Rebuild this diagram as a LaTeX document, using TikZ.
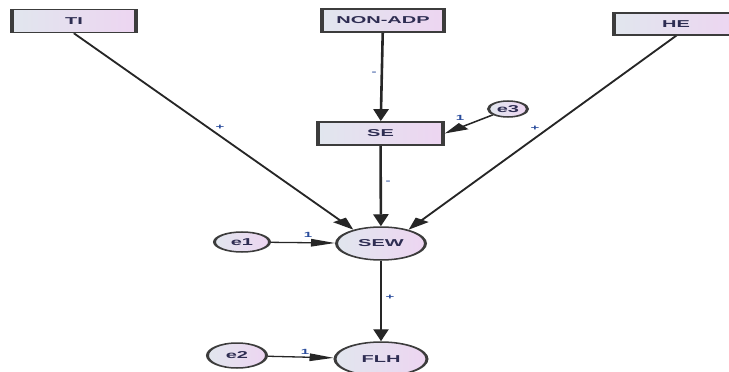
\documentclass[tikz,border=0pt]{standalone}
\usepackage{fontspec}
\setmainfont{Liberation Sans}
\usetikzlibrary{arrows.meta,shapes.geometric}
\definecolor{edgegray}{HTML}{3C3C3C}
\definecolor{linegray}{HTML}{262626}
\definecolor{fillleft}{HTML}{E1E6EE}
\definecolor{fillright}{HTML}{EDD5F1}
\definecolor{textnavy}{HTML}{2E2D52}
\definecolor{coefblue}{HTML}{2A4C9C}

\begin{document}
\begin{tikzpicture}[x=1pt,y=-1pt,
  observed/.style={rectangle, draw=edgegray, line width=1.7pt,
    minimum width=62pt, minimum height=23pt, inner sep=0pt,
    left color=fillleft, right color=fillright,
    font=\bfseries\fontsize{10}{12}\selectfont, text=textnavy},
  latent/.style={ellipse, draw=edgegray, line width=1.5pt, inner sep=0pt,
    left color=fillleft, right color=fillright,
    font=\bfseries\fontsize{10}{12}\selectfont, text=textnavy},
  conn/.style={draw=linegray, line width=1.3pt,
    -{Triangle[length=12pt,width=7.5pt]}},
  coef/.style={font=\bfseries\fontsize{7.5}{9}\selectfont, text=coefblue,
    inner sep=0pt}
]
\useasboundingbox (0,0) rectangle (729,372);
% the model is laid out at half width and stretched horizontally
\begin{scope}[transform canvas={xscale=2}]
  % observed variables
  \node[observed] (TI) at (37,21) {TI};
  \node[observed, minimum width=61pt] (NONADP) at (191.5,20.5) {NON-ADP};
  \node[observed, minimum height=22pt] (HE) at (338,24) {HE};
  \node[observed, minimum width=62.5pt] (SE) at (190.25,133.5) {SE};
  % latent variables and error terms
  \node[latent, minimum width=44.5pt, minimum height=33pt] (SEW) at (190.5,243.5) {SEW};
  \node[latent, minimum width=46pt, minimum height=34pt] (FLH) at (190.5,359) {FLH};
  \node[latent, minimum width=19.5pt, minimum height=16pt] (e3) at (254,109) {e3};
  \node[latent, minimum width=27.5pt, minimum height=20pt] (e1) at (121,242) {e1};
  \node[latent, minimum width=29.5pt, minimum height=25pt] (e2) at (118.5,355.5) {e2};
  % regression paths
  \draw[conn] (TI.south) -- (SEW.135);
  \draw[conn] (NONADP) -- (SE);
  \draw[conn] (e3) -- (SE.east);
  \draw[conn] (HE.south) -- (SEW.45);
  \draw[conn] (SE) -- (SEW);
  \draw[conn] (e1) -- (SEW);
  \draw[conn] (SEW) -- (FLH);
  \draw[conn] (e2) -- (FLH);
  % path signs and fixed weights
  \node[coef] (sTI) at (110,127) {+};
  \node[coef] (sNA) at (187,73) {-};
  \node[coef] (w3) at (230,118) {1};
  \node[coef] (sHE) at (267.5,128) {+};
  \node[coef] (sSE) at (194,182) {-};
  \node[coef] (w1) at (154,235) {1};
  \node[coef] (sSW) at (195,297) {+};
  \node[coef] (w2) at (152.5,352) {1};
\end{scope}
\end{tikzpicture}
\end{document}
